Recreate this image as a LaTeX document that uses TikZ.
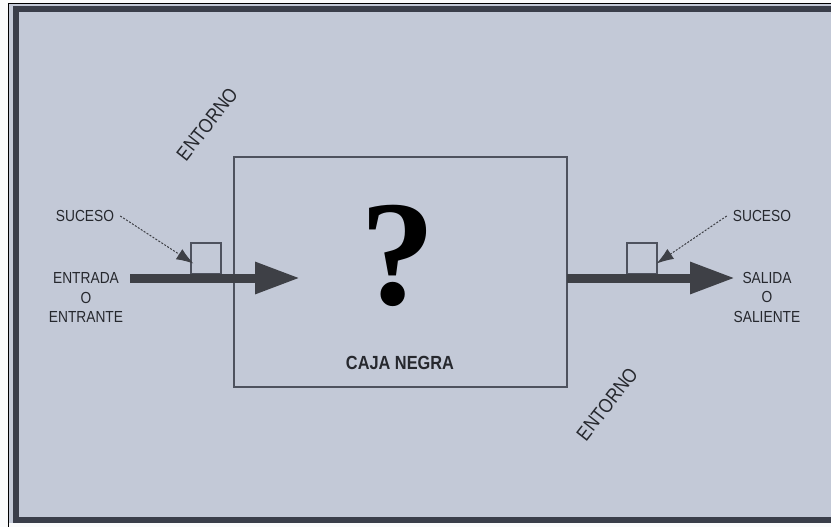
\documentclass[tikz,border=0pt]{standalone}
\usepackage{fontspec}
\setmainfont[FakeStretch=0.86]{Liberation Sans}
\newfontfamily\serifq{Liberation Serif}
\usetikzlibrary{arrows.meta}
\definecolor{fondo}{RGB}{195,201,215}
\definecolor{oscuro}{RGB}{62,64,70}
\definecolor{marco}{RGB}{58,62,74}
\definecolor{linea}{RGB}{78,82,94}
\definecolor{texto}{RGB}{38,40,46}

\begin{document}
\begin{tikzpicture}[x=1pt,y=-1pt,
		etiqueta/.style={font=\fontsize{16}{19.5}\selectfont,text=texto,align=center,inner sep=2pt},
		entorno/.style={font=\fontsize{20}{22}\selectfont,text=texto,rotate=52,inner sep=0pt},
		suceso/.style={draw=linea,line width=1.2pt,minimum width=30pt,minimum height=31pt,inner sep=0pt},
		flujo/.style={oscuro,line width=9pt,-{Triangle[length=45pt,width=30pt]}},
		aviso/.style={oscuro,line width=1pt,dash pattern=on 2pt off 1.5pt,-{Latex[length=17pt,width=12pt]}}]
		\useasboundingbox (0,0) rectangle (831,527);
		\clip (0,0) rectangle (831,527);
		% fondo y marco
		\fill[white!92!fondo] (0,0) rectangle (831,527);
		\fill[fondo] (8,3) rectangle (840,523);
		\draw[black,line width=1pt] (8.5,540) -- (8.5,3.5) -- (840,3.5);
		\draw[marco,line width=6pt] (15.5,9) rectangle (850,520);
		% caja negra
		\node[draw=linea,line width=1.3pt,minimum width=333pt,minimum height=230pt] (caja) at (400.5,272) {};
		\node[font=\serifq\bfseries\fontsize{150}{150}\selectfont,text=black] (duda) at (398,256) {?};
		\node[font=\bfseries\fontsize{19}{22}\selectfont,text=texto] (nombre) at (400,363) {CAJA NEGRA};
		\node[entorno] (entorno1) at (207,124) {ENTORNO};
		\node[entorno] (entorno2) at (607,404) {ENTORNO};
		% entrada
		\node[etiqueta] (entrada) at (86,297.5) {ENTRADA\\O\\ENTRANTE};
		\node[etiqueta] (suceso1) at (85,216) {SUCESO};
		\node[suceso] (ev1) at (206,258.5) {};
		\coordinate (ent1) at (130,278);
		\coordinate (ent2) at (300,278);
		\draw[flujo] (ent1) -- (ent2);
		\draw[aviso] ([xshift=4pt]suceso1.east) -- ([shift={(3,5)}]ev1.west);
		% salida
		\node[etiqueta] (salida) at (767,297) {SALIDA\\O\\SALIENTE};
		\node[etiqueta] (suceso2) at (762,216) {SUCESO};
		\node[suceso] (ev2) at (642,258.5) {};
		\coordinate (sal1) at (567,278);
		\coordinate (sal2) at (735,278);
		\draw[flujo] (sal1) -- (sal2);
		\draw[aviso] ([xshift=-4pt]suceso2.west) -- ([shift={(-1,5)}]ev2.east);
	\end{tikzpicture}
\end{document}
